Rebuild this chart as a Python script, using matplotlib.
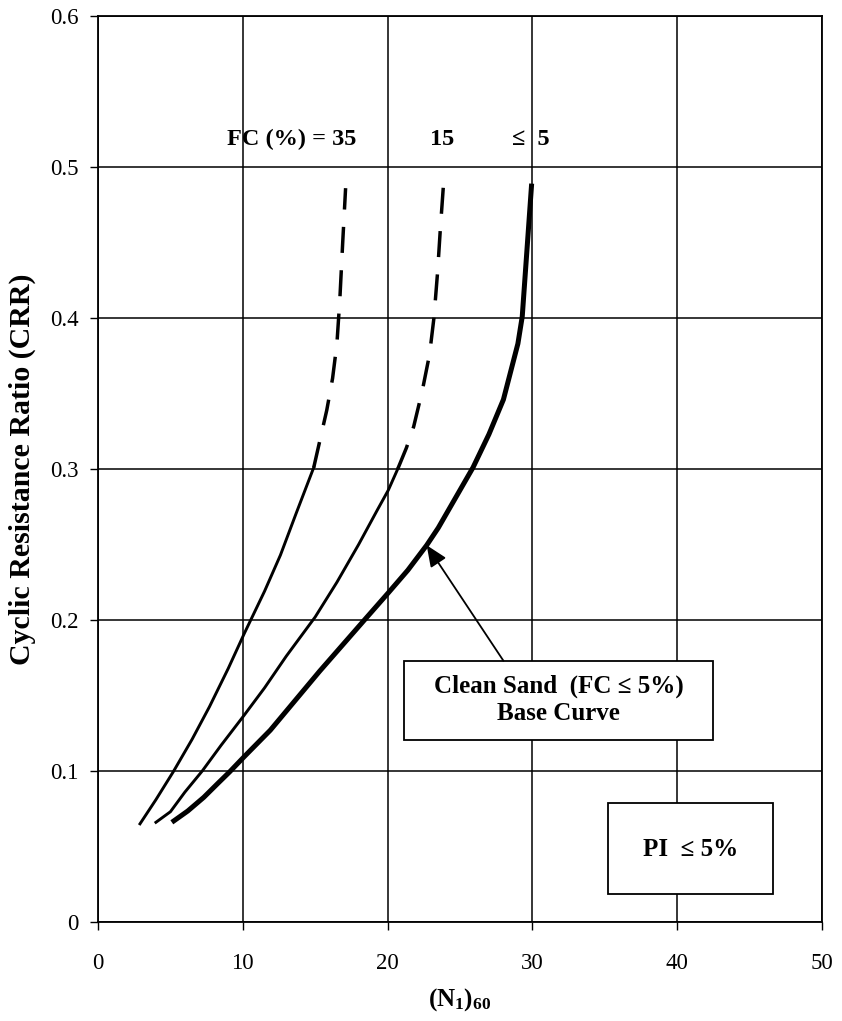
import matplotlib
matplotlib.use("Agg")
import matplotlib.pyplot as plt
from matplotlib.patches import Rectangle

plt.rcParams['font.family'] = ['Liberation Serif', 'DejaVu Serif']
plt.rcParams['mathtext.fontset'] = 'custom'
plt.rcParams['mathtext.rm'] = 'Liberation Serif'
plt.rcParams['mathtext.bf'] = 'Liberation Serif:bold'
plt.rcParams['mathtext.it'] = 'Liberation Serif:bold'
plt.rcParams['mathtext.default'] = 'bf'

# Clean sand base curve (FC <= 5%)
base_n = [5.1, 6.2, 7.3, 8.3, 9.1, 10.1, 11.9, 15.3, 18.4, 20.05, 21.4, 22.7, 23.5, 24.4, 25.9,
          27.0, 28.0, 29.0, 29.3, 29.95]
base_crr = [0.066, 0.0735, 0.0825, 0.092, 0.0995, 0.1095, 0.127, 0.166, 0.200, 0.218, 0.233, 0.2495,
            0.261, 0.276, 0.301, 0.323, 0.346, 0.383, 0.401, 0.489]

# FC = 15 % curve (solid part, dashed extension)
fc15_n = [4.0, 5.0, 6.0, 7.2, 8.5, 10.1, 11.5, 13.0, 15.0, 16.5, 18.0, 19.3, 20.05, 20.7]
fc15_crr = [0.066, 0.073, 0.086, 0.100, 0.117, 0.137, 0.155, 0.176, 0.202, 0.225, 0.250, 0.273,
            0.286, 0.300]
fc15_ext_n = [20.7, 21.3, 21.8, 22.4, 22.9, 23.2, 23.45, 23.65, 23.85]
fc15_ext_crr = [0.300, 0.314, 0.328, 0.352, 0.376, 0.400, 0.430, 0.460, 0.487]

# FC = 35 % curve (solid part, dashed extension)
fc35_n = [2.9, 4.0, 5.2, 6.5, 7.7, 9.0, 10.1, 11.5, 12.6, 13.7, 14.9]
fc35_crr = [0.065, 0.081, 0.0995, 0.121, 0.1426, 0.168, 0.191, 0.219, 0.243, 0.271, 0.301]
fc35_ext_n = [14.9, 15.35, 15.8, 16.2, 16.5, 16.7, 16.9, 17.1]
fc35_ext_crr = [0.301, 0.320, 0.339, 0.360, 0.383, 0.412, 0.450, 0.486]

x_ticks = [0, 10, 20, 30, 40, 50]
y_ticks = [0, 0.1, 0.2, 0.3, 0.4, 0.5, 0.6]
y_tick_labels = ['0', '0.1', '0.2', '0.3', '0.4', '0.5', '0.6']

fig = plt.figure(figsize=(8.42, 10.21), dpi=100)
ax = fig.add_axes([0.1164, 0.097, 0.8598, 0.8873])

ax.plot(base_n, base_crr, color='black', lw=3.6, solid_capstyle='butt', solid_joinstyle='round', zorder=3)
ax.plot(fc15_n, fc15_crr, color='black', lw=2.1, zorder=3)
ax.plot(fc15_ext_n, fc15_ext_crr, color='black', lw=2.5, dashes=(7.5, 5), zorder=3)
ax.plot(fc35_n, fc35_crr, color='black', lw=2.1, zorder=3)
ax.plot(fc35_ext_n, fc35_ext_crr, color='black', lw=2.5, dashes=(7.5, 5), zorder=3)

ax.set_xlim(0, 50)
ax.set_ylim(0, 0.6)
ax.set_xticks(x_ticks)
ax.set_xticklabels([str(t) for t in x_ticks])
ax.set_yticks(y_ticks)
ax.set_yticklabels(y_tick_labels)
ax.tick_params(direction='out', length=6, width=1, colors='black', labelsize=16.5)
ax.tick_params(axis='x', pad=16)
ax.tick_params(axis='y', pad=8)

ax.grid(True, color='black', lw=1.1)
ax.set_axisbelow(True)
for s in ax.spines.values():
    s.set_linewidth(1.3)

# curve labels
ax.text(13.4, 0.5185, 'FC (%) = 35', ha='center', va='center', fontsize=17.5, fontweight='bold')
ax.text(23.8, 0.5185, '15', ha='center', va='center', fontsize=17.5, fontweight='bold')
ax.text(29.9, 0.5185, '≤  5', ha='center', va='center', fontsize=17.5, fontweight='bold')

# base curve box and arrow
ax.add_patch(Rectangle((21.1, 0.1205), 21.4, 0.0525, fc='white', ec='black', lw=1.3, zorder=4))
ax.text(31.8, 0.147, 'Clean Sand  (FC ≤ 5%)\nBase Curve', ha='center', va='center',
        fontsize=18, fontweight='bold', linespacing=1.2, zorder=5)
ax.annotate('', xy=(22.7, 0.2495), xytext=(28.0, 0.173),
            arrowprops=dict(arrowstyle='-|>,head_length=0.65,head_width=0.28',
                            color='black', lw=1.3, mutation_scale=20, shrinkA=0, shrinkB=0),
            zorder=5)

# PI box
ax.add_patch(Rectangle((35.2, 0.0185), 11.4, 0.0603, fc='white', ec='black', lw=1.3, zorder=4))
ax.text(40.9, 0.048, 'PI  ≤ 5%', ha='center', va='center', fontsize=18, fontweight='bold', zorder=5)

ax.set_xlabel('$(N_1)_{60}$', fontsize=18)
ax.xaxis.set_label_coords(0.5, -0.086)
ax.xaxis.label.set_va('center')
ax.set_ylabel('Cyclic Resistance Ratio (CRR)', fontsize=21.5, fontweight='bold')
ax.yaxis.set_label_coords(-0.104, 0.5)
ax.yaxis.label.set_va('center')

fig.savefig('out.png', dpi=100)
